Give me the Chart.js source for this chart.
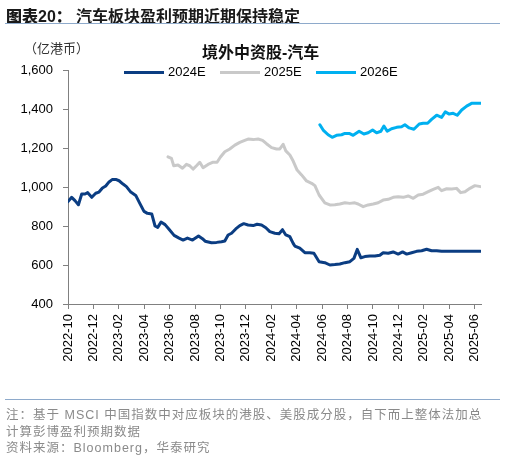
<!DOCTYPE html>
<html>
<head>
<meta charset="utf-8">
<script src="https://cdn.jsdelivr.net/npm/chart.js@4/dist/chart.umd.min.js"></script>
<style>
  html, body { margin: 0; padding: 0; background: #fff; }
  body { width: 505px; height: 465px; position: relative; overflow: hidden;
         font-family: "Liberation Sans", "Noto Sans CJK SC", sans-serif; }
  #wrap { position: absolute; left: 0; top: 0; width: 505px; height: 465px; }
  .abs { position: absolute; white-space: nowrap; }
  .cjk { font-family: "Liberation Sans", "Noto Sans CJK SC", sans-serif; }
  #fig { left: 6px; top: 3px; font-size: 16px; font-weight: bold; color: #1a1a1a; }
  #fig b { display: inline-block; width: 70px; }
  .rule { position: absolute; left: 5px; width: 495px; height: 0; border-top: 1.5px solid #8eaacb; }
  #unit { left: 24px; top: 38px; font-size: 13px; color: #333; }
  #ctitle { left: 202px; top: 39px; font-size: 16px; font-weight: bold; color: #111; }
  .leg { position: absolute; top: 64px; height: 16px; font-size: 13px; color: #000; }
  .leg i { position: absolute; left: 0; top: 7px; width: 40px; height: 3px; }
  .leg span { position: absolute; left: 44px; top: 0; line-height: 16px; }
  .note { left: 6px; font-size: 12.5px; letter-spacing: 1px; color: #8a8a8a; }
</style>
</head>
<body>
<div id="wrap"><canvas id="myChart"></canvas></div>

<div class="abs cjk" id="fig"><b>图表20：</b>汽车板块盈利预期近期保持稳定</div>
<div class="rule" style="top:23px"></div>
<div class="abs cjk" id="unit">（亿港币）</div>
<div class="abs cjk" id="ctitle">境外中资股-汽车</div>
<div class="leg" style="left:124px"><i style="background:#0b3d82"></i><span>2024E</span></div>
<div class="leg" style="left:220px"><i style="background:#c9c9c9"></i><span>2025E</span></div>
<div class="leg" style="left:316px"><i style="background:#00b0f0"></i><span>2026E</span></div>
<div class="rule" style="top:399px"></div>
<div class="abs cjk note" style="top:404px">注：基于 MSCI 中国指数中对应板块的港股、美股成分股，自下而上整体法加总</div>
<div class="abs cjk note" style="top:421px">计算彭博盈利预期数据</div>
<div class="abs cjk note" style="top:437px">资料来源：Bloomberg，华泰研究</div>

<script>
// x = months since 2022-10-01
const monthLabels = ['2022-10','2022-12','2023-02','2023-04','2023-06','2023-08','2023-10','2023-12',
                     '2024-02','2024-04','2024-06','2024-08','2024-10','2024-12','2025-02','2025-04','2025-06'];
const yTicks = [400, 600, 800, 1000, 1200, 1400, 1600];

const t2024 = [0.00,0.29,0.55,0.82,1.08,1.34,1.55,1.87,2.18,2.44,2.71,2.97,3.23,3.50,3.76,4.02,4.33,4.60,4.94,5.33,
               5.65,5.98,6.25,6.59,6.85,7.06,7.32,7.64,7.95,8.35,8.74,9.06,9.40,9.80,10.27,10.58,10.79,11.29,11.69,12.08,
               12.34,12.60,12.87,13.20,13.52,13.83,14.17,14.57,14.88,15.23,15.57,15.88,16.28,16.61,16.88,17.14,17.46,17.72,17.85,18.24,
               18.64,19.03,19.35,19.76,20.21,20.61,21.00,21.39,21.79,22.18,22.50,22.76,23.05,23.36,23.76,24.15,24.54,24.80,25.20,25.59,
               25.98,26.33,26.65,27.04,27.43,27.83,28.22,28.61,29.01,29.40,30.06,31.10,32.47];
const v2024 = [925,947,930,909,964,964,971,947,968,974,995,1005,1026,1039,1039,1032,1015,1002,974,957,
               916,875,865,862,800,793,820,807,783,752,738,728,738,728,749,735,722,714,716,719,
               723,754,763,785,802,812,805,802,809,805,791,771,763,760,781,754,745,711,697,686,
               663,663,660,617,612,600,602,605,612,617,634,680,637,643,646,646,650,663,660,667,
               656,667,656,663,670,673,681,673,673,670,670,670,670];

const t2025 = [7.87,8.14,8.32,8.66,9.01,9.32,9.58,9.84,10.11,10.37,10.63,11.02,11.42,11.73,12.00,12.34,12.73,13.13,13.52,13.91,
               14.17,14.57,14.96,15.31,15.62,16.02,16.41,16.67,16.93,17.14,17.46,17.72,18.03,18.38,18.77,19.17,19.43,19.76,20.21,20.61,
               21.00,21.39,21.79,22.18,22.57,22.83,23.23,23.62,24.02,24.41,24.80,25.20,25.59,25.98,26.38,26.77,27.17,27.56,27.95,28.35,
               28.74,29.13,29.40,29.80,30.19,30.58,30.90,31.24,31.63,32.02,32.47];
const v2025 = [1155,1147,1109,1113,1096,1116,1109,1092,1109,1127,1099,1116,1127,1127,1154,1181,1195,1215,1229,1239,
               1246,1243,1246,1239,1222,1202,1195,1195,1219,1185,1164,1133,1087,1062,1031,1019,1007,959,919,908,
               909,913,919,916,919,913,899,908,913,919,933,937,947,950,947,954,942,959,963,976,
               988,998,981,991,990,993,971,976,993,1007,1002];

const t2026 = [19.82,20.08,20.47,20.79,21.13,21.53,21.79,22.13,22.44,22.91,23.28,23.62,23.97,24.28,24.62,24.86,25.12,25.46,25.86,26.25,
               26.51,26.85,27.22,27.64,27.95,28.30,28.61,29.01,29.40,29.69,30.00,30.31,30.63,30.98,31.37,31.76,32.16,32.47];
const v2026 = [1319,1292,1268,1255,1265,1268,1275,1275,1265,1286,1272,1278,1292,1278,1286,1313,1286,1299,1306,1309,
               1319,1303,1296,1323,1327,1327,1347,1368,1357,1385,1374,1378,1368,1395,1415,1429,1429,1429];

function pts(xs, ys) {
    return xs.map((x, i) => ({ x: x, y: ys[i] }));
}

const axisColor = '#808080';
const tickFont = { family: 'Liberation Sans', size: 13 };

let ctx = document.getElementById('myChart').getContext('2d');

let lineChart = new Chart(ctx, {
    type: 'line',
    data: {
        datasets: [
            { label: '2024E', data: pts(t2024, v2024), borderColor: '#0b3d82', backgroundColor: '#0b3d82' },
            { label: '2025E', data: pts(t2025, v2025), borderColor: '#c9c9c9', backgroundColor: '#c9c9c9' },
            { label: '2026E', data: pts(t2026, v2026), borderColor: '#00b0f0', backgroundColor: '#00b0f0' }
        ]
    },
    options: {
        responsive: true,
        maintainAspectRatio: false,
        animation: false,
        layout: {
            padding: { left: 0, right: 24, top: 70, bottom: 99 }
        },
        elements: {
            line: { tension: 0, borderWidth: 3, borderJoinStyle: 'round', borderCapStyle: 'round' },
            point: { radius: 0 }
        },
        plugins: {
            legend: { display: false },
            title: { display: false },
            tooltip: { enabled: false }
        },
        scales: {
            x: {
                type: 'linear',
                min: 0,
                max: 32.5,
                afterFit: s => { s.height = 62; },
                afterBuildTicks: s => { s.ticks = monthLabels.map((_, i) => ({ value: i * 2 })); },
                border: { color: axisColor, width: 1 },
                grid: { drawOnChartArea: false, tickLength: 5, color: axisColor },
                ticks: {
                    autoSkip: false,
                    minRotation: 90,
                    maxRotation: 90,
                    padding: 5,
                    color: '#000',
                    font: tickFont,
                    callback: v => monthLabels[Math.round(v / 2)]
                }
            },
            y: {
                min: 400,
                max: 1600,
                afterFit: s => { s.width = 68; },
                afterBuildTicks: s => { s.ticks = yTicks.map(v => ({ value: v })); },
                border: { color: axisColor, width: 1 },
                grid: { drawOnChartArea: false, tickLength: 5, color: axisColor },
                ticks: {
                    padding: 10,
                    color: '#000',
                    font: tickFont,
                    callback: v => v.toLocaleString('en-US')
                }
            }
        }
    }
});
</script>
</body>
</html>
